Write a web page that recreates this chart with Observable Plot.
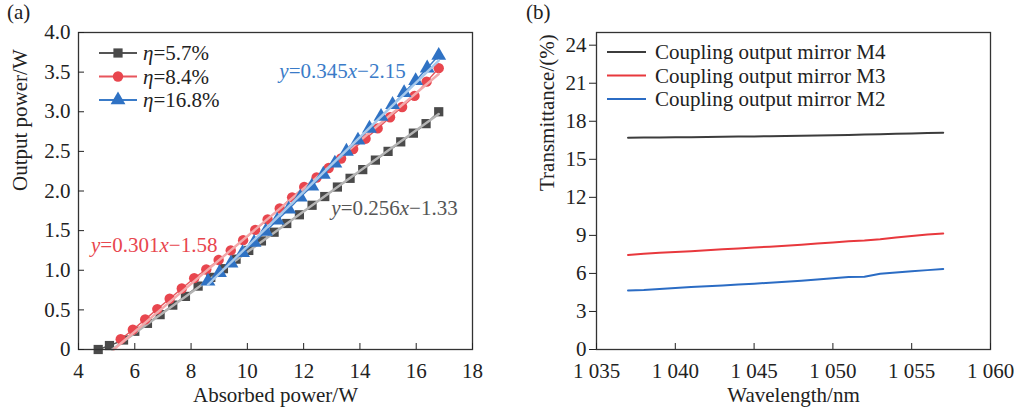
<!DOCTYPE html>
<html><head><meta charset="utf-8">
<script src="https://cdn.jsdelivr.net/npm/d3@7"></script>
<script src="https://cdn.jsdelivr.net/npm/@observablehq/plot@0.6"></script>
<style>
body{margin:0;background:#fff;font-family:"Liberation Serif",serif;}
#wrap{position:relative;width:1014px;height:412px;overflow:hidden;}
#a,#b{position:absolute;top:0;}
#a{left:0;} #b{left:507px;}
.plab{position:absolute;top:0px;font-size:21px;color:#222;font-family:"Liberation Serif",serif;}
</style></head><body>
<div id="wrap"><div id="a"></div><div id="b"></div>
<div class="plab" style="left:7px">(a)</div><div class="plab" style="left:526px">(b)</div></div>
<script>
// ---------- Panel (a) data ----------
const seriesNames = ["5.7%", "8.4%", "16.8%"];
const grayX = [4.70,5.10,5.60,6.00,6.45,6.90,7.35,7.80,8.25,8.70,9.15,9.60,10.05,10.50,10.95,11.40,11.85,12.30,12.75,13.20,13.65,14.10,14.55,15.00,15.45,15.90,16.35,16.80];
const grayY = [0.00,0.05,0.12,0.23,0.33,0.44,0.56,0.67,0.80,0.91,1.02,1.14,1.25,1.37,1.48,1.59,1.70,1.82,1.93,2.05,2.16,2.27,2.39,2.50,2.62,2.73,2.85,3.00];
const redX = [5.50,5.93,6.37,6.80,7.24,7.67,8.11,8.54,8.98,9.41,9.85,10.28,10.72,11.15,11.59,12.02,12.46,12.89,13.33,13.76,14.20,14.63,15.07,15.50,15.94,16.37,16.80];
const redY = [0.13,0.25,0.38,0.51,0.64,0.77,0.90,1.01,1.13,1.25,1.38,1.51,1.64,1.78,1.92,2.05,2.17,2.29,2.41,2.53,2.66,2.79,2.93,3.06,3.20,3.38,3.55];
const blueX = [8.60,9.01,9.42,9.83,10.24,10.65,11.06,11.47,11.88,12.29,12.70,13.11,13.52,13.93,14.34,14.75,15.16,15.57,15.98,16.39,16.80];
const blueY = [0.86,0.97,1.09,1.22,1.35,1.49,1.63,1.77,1.92,2.06,2.21,2.35,2.50,2.64,2.79,2.94,3.09,3.24,3.39,3.55,3.71];
const fitSlope = [0.256, 0.301, 0.345];
const fitIntercept = [-1.33, -1.58, -2.15];
const fitXEnd = [16.8, 16.8, 16.8];
const fitXStartBlue = 8.6;
const eqLabels = ["y=0.256x\u22121.33", "y=0.301x\u22121.58", "y=0.345x\u22122.15"];
const eqX = [15.23, 6.69, 13.38];
const eqY = [1.78, 1.32, 3.51];
const xTicksA = [4,6,8,10,12,14,16,18];
const yTicksA = [0,0.5,1,1.5,2,2.5,3,3.5,4];
const yTickLabelsA = ["0","0.5","1.0","1.5","2.0","2.5","3.0","3.5","4.0"];

// ---------- Panel (b) data ----------
const wavelength = [1037,1038,1039,1040,1041,1042,1043,1044,1045,1046,1047,1048,1049,1050,1051,1052,1053,1054,1055,1056,1057];
const m4 = [16.70,16.71,16.72,16.73,16.74,16.76,16.77,16.79,16.80,16.82,16.84,16.86,16.88,16.90,16.92,16.95,16.98,17.01,17.04,17.07,17.10];
const m3 = [7.45,7.55,7.63,7.68,7.75,7.82,7.90,7.97,8.04,8.11,8.18,8.26,8.35,8.44,8.53,8.60,8.70,8.83,8.96,9.06,9.15];
const m2 = [4.65,4.70,4.78,4.85,4.92,4.99,5.05,5.12,5.19,5.27,5.35,5.43,5.52,5.62,5.72,5.74,5.98,6.08,6.17,6.26,6.35];
const mirrorNames = ["Coupling output mirror M4","Coupling output mirror M3","Coupling output mirror M2"];
const xTicksB = [1035,1040,1045,1050,1055,1060];
const xTickLabelsB = ["1 035","1 040","1 045","1 050","1 055","1 060"];
const yTicksB = [0,3,6,9,12,15,18,21,24];

// ---------- styles ----------
const markColor = ["#4a4a4a", "#e8464e", "#2f72c4"];
const lineColor = ["#555555", "#e8555c", "#3a7bc8"];
const fitColor = ["#b4b4b4", "#f3a9ab", "#a6c9ec"];
const eqColor = ["#555555", "#e8464e", "#3a7bc8"];
const symbols = ["square", "circle", "triangle"];
const mirrorColor = ["#3c3c3c", "#e8383d", "#2b6cc4"];
const FONT = "Liberation Serif";
const FS = 21;

const series = [
  grayX.map((x,i)=>({x, y: grayY[i]})),
  redX.map((x,i)=>({x, y: redY[i]})),
  blueX.map((x,i)=>({x, y: blueY[i]}))
];
const fits = fitSlope.map((m,k)=>{
  const x0 = k === 2 ? fitXStartBlue : -fitIntercept[k]/m;
  return [{x:x0, y:m*x0+fitIntercept[k]}, {x:fitXEnd[k], y:m*fitXEnd[k]+fitIntercept[k]}];
});
const eqData = eqLabels.map((t,i)=>({t, x: eqX[i], y: eqY[i], c: eqColor[i]}));

const marksA = [];
for (let k = 0; k < 3; k++) {
  marksA.push(Plot.line(series[k], {x:"x", y:"y", stroke: lineColor[k], strokeWidth: 1.4}));
  marksA.push(Plot.dot(series[k], {x:"x", y:"y", symbol: symbols[k], r: k===2?5.5:5.2, fill: markColor[k], stroke: "none"}));
  marksA.push(Plot.line(fits[k], {x:"x", y:"y", stroke: fitColor[k], strokeWidth: 2.4}));
}

const plotA = Plot.plot({
  width: 507, height: 412,
  marginLeft: 78, marginRight: 35, marginTop: 32, marginBottom: 63,
  style: {fontFamily: FONT, fontSize: FS + "px", color: "#222", background: "transparent", overflow: "visible"},
  x: {domain: [4, 18]},
  y: {domain: [0, 4]},
  marks: [
    ...marksA,
    Plot.frame({stroke: "#333", strokeWidth: 1.3}),
    Plot.axisX({ticks: xTicksA, tickSize: -6, tickPadding: 20, label: null, fontSize: FS, tickFormat: d => String(d)}),
    Plot.axisY({ticks: yTicksA, tickSize: -6, tickPadding: 14, label: null, fontSize: FS, tickFormat: d => yTickLabelsA[yTicksA.indexOf(d)]}),
    Plot.text(eqData, {x:"x", y:"y", text:"t", fill:"c", fontSize: FS, fontFamily: FONT}),
    Plot.text(["Absorbed power/W"], {frameAnchor: "bottom", dy: 52, fontSize: FS, fill: "#222"}),
    Plot.text(["Output power/W"], {frameAnchor: "left", dx: -58, rotate: -90, fontSize: FS, fill: "#222"})
  ]
});
document.getElementById("a").appendChild(plotA);

const plotB = Plot.plot({
  width: 507, height: 412,
  marginLeft: 89, marginRight: 24, marginTop: 32, marginBottom: 63,
  style: {fontFamily: FONT, fontSize: FS + "px", color: "#222", background: "transparent", overflow: "visible"},
  x: {domain: [1035, 1060]},
  y: {domain: [0, 25]},
  marks: [
    Plot.line(wavelength.map((w,i)=>({w, v:m4[i]})), {x:"w", y:"v", stroke: mirrorColor[0], strokeWidth: 2}),
    Plot.line(wavelength.map((w,i)=>({w, v:m3[i]})), {x:"w", y:"v", stroke: mirrorColor[1], strokeWidth: 2}),
    Plot.line(wavelength.map((w,i)=>({w, v:m2[i]})), {x:"w", y:"v", stroke: mirrorColor[2], strokeWidth: 2}),
    Plot.frame({stroke: "#333", strokeWidth: 1.3}),
    Plot.axisX({ticks: xTicksB, tickSize: -6, tickPadding: 20, label: null, fontSize: FS, tickFormat: d => xTickLabelsB[xTicksB.indexOf(d)]}),
    Plot.axisY({ticks: yTicksB, tickSize: 7, tickPadding: 3, label: null, fontSize: FS}),
    Plot.text(["Wavelength/nm"], {frameAnchor: "bottom", dy: 52, fontSize: FS, fill: "#222"}),
    Plot.text(["Transmittance/(%)"], {frameAnchor: "left", dx: -49, rotate: -90, fontSize: FS, fill: "#222"})
  ]
});
document.getElementById("b").appendChild(plotB);

// italicize variables in equation labels
d3.select(plotA).selectAll("text").each(function() {
  const s = this.textContent;
  if (!/^y=/.test(s)) return;
  const el = d3.select(this);
  el.text(null);
  for (const ch of s) {
    const t = el.append("tspan").text(ch);
    if (ch === "x" || ch === "y") t.attr("font-style", "italic");
  }
});

// legend (a)
const gA = d3.select(plotA).append("g").attr("font-family", FONT).attr("font-size", FS).attr("text-anchor", "start");
const symMap = {square: d3.symbolSquare, circle: d3.symbolCircle, triangle: d3.symbolTriangle};
seriesNames.forEach((name, i) => {
  const y = 53 + i * 23.5;
  gA.append("line").attr("x1", 99).attr("x2", 137).attr("y1", y).attr("y2", y)
    .attr("stroke", lineColor[i]).attr("stroke-width", 1.8);
  const r = i===2 ? 5.5 : 5.2;
  gA.append("path").attr("d", d3.symbol(symMap[symbols[i]], Math.PI*r*r)())
    .attr("transform", `translate(118,${y})`).attr("fill", markColor[i]);
  const t = gA.append("text").attr("x", 143).attr("y", y).attr("dy", "0.35em").attr("fill", "#222").attr("text-anchor", "start");
  t.append("tspan").attr("font-style", "italic").text("\u03b7");
  t.append("tspan").text("=" + name);
});

// legend (b)
const gB = d3.select(plotB).append("g").attr("font-family", FONT).attr("font-size", FS).attr("text-anchor", "start");
mirrorNames.forEach((name, i) => {
  const y = 52 + i * 23.5;
  gB.append("line").attr("x1", 100).attr("x2", 139).attr("y1", y).attr("y2", y)
    .attr("stroke", mirrorColor[i]).attr("stroke-width", 2);
  gB.append("text").attr("x", 148).attr("y", y).attr("dy", "0.35em").attr("fill", "#222").attr("text-anchor", "start").text(name);
});
</script>
</body></html>
